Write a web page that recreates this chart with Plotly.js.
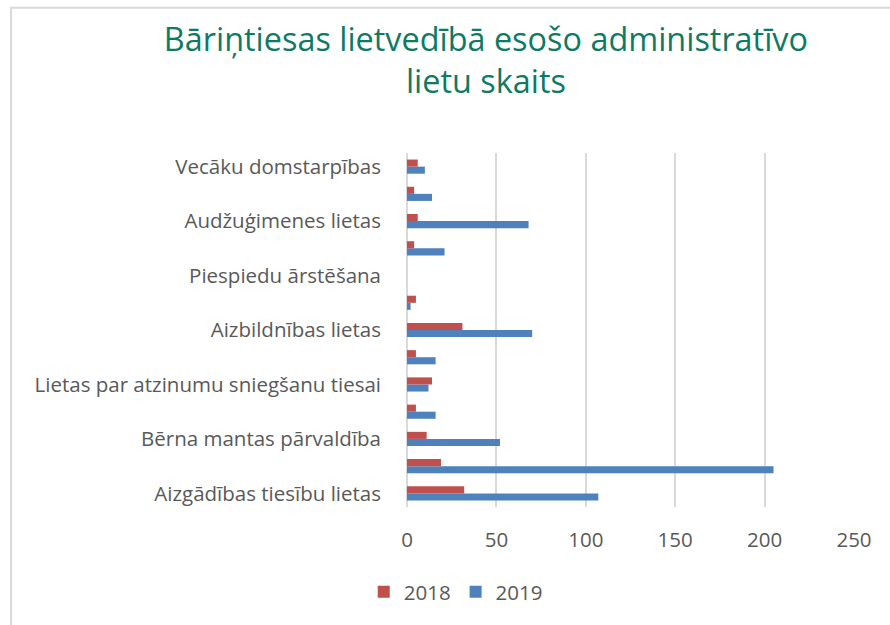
<!DOCTYPE html>
<html>
<head>
<meta charset="utf-8">
<script src="https://cdn.plot.ly/plotly-3.0.1.min.js"></script>
<style>html,body{margin:0;padding:0;background:#fff;}#chart{width:890px;height:625px;}</style>
</head>
<body>
<div id="chart"></div>
<script>
// Categories from bottom to top
const categories = [
  "Aizgādības tiesību lietas",
  "Adopcijas lietas",
  "Bērna mantas pārvaldība",
  "Saskarsmes tiesību lietas",
  "Lietas par atzinumu sniegšanu tiesai",
  "Uzturlīdzekļu lietas",
  "Aizbildnības lietas",
  "Vārda došanas lietas",
  "Piespiedu ārstēšana",
  "Ārpusģimenes aprūpes lietas",
  "Audžuģimenes lietas",
  "Citas lietas",
  "Vecāku domstarpības"
];
const shownLabels = [
  "Aizgādības tiesību lietas",
  "Bērna mantas pārvaldība",
  "Lietas par atzinumu sniegšanu tiesai",
  "Aizbildnības lietas",
  "Piespiedu ārstēšana",
  "Audžuģimenes lietas",
  "Vecāku domstarpības"
];
const values2018 = [32, 19, 11, 5, 14, 5, 31, 5, 0, 4, 6, 4, 6];
const values2019 = [107, 205, 52, 16, 12, 16, 70, 2, 0, 21, 68, 14, 10];
const seriesNames = ["2018", "2019"];
const xTicks = [0, 50, 100, 150, 200, 250];

const font = "'Open Sans', 'Noto Sans', sans-serif";

const data = [
  {type: "bar", orientation: "h", name: seriesNames[1], y: categories, x: values2019,
   marker: {color: "#4F81BD", line: {width: 0}}},
  {type: "bar", orientation: "h", name: seriesNames[0], y: categories, x: values2018,
   marker: {color: "#C0504D", line: {width: 0}}}
];

const layout = {
  width: 890, height: 625,
  margin: {l: 407, r: 36, t: 153, b: 118},
  paper_bgcolor: "#fff", plot_bgcolor: "#fff",
  barmode: "group", bargap: 0.48, bargroupgap: 0,
  font: {family: font, color: "#595959", size: 20.5},
  title: {
    text: "Bāriņtiesas lietvedībā esošo administratīvo<br>lietu skaits",
    font: {family: font, size: 32.4, color: "#0E7A63"},
    xref: "container", x: 0.546, xanchor: "center",
    yref: "container", y: 0.918, yanchor: "top"
  },
  xaxis: {
    range: [0, 250], tickvals: xTicks, ticktext: xTicks.map(String),
    showgrid: true, gridcolor: "#D9D9D9", gridwidth: 2,
    zeroline: true, zerolinecolor: "#D9D9D9", zerolinewidth: 2,
    showline: false, ticks: "", ticklabelstandoff: 18,
    tickfont: {family: font, size: 20.5, color: "#595959"},
    fixedrange: true
  },
  yaxis: {
    type: "category", categoryorder: "array", categoryarray: categories,
    tickvals: shownLabels, ticktext: shownLabels,
    showgrid: false, zeroline: false, showline: false, ticks: "",
    ticklabelstandoff: 25,
    tickfont: {family: font, size: 20.5, color: "#595959"},
    fixedrange: true
  },
  showlegend: true,
  legend: {
    orientation: "h", traceorder: "reversed",
    x: 0.109, xanchor: "center", y: -0.24, yanchor: "middle",
    font: {family: font, size: 20.5, color: "#595959"}
  },
  shapes: [{
    type: "rect", xref: "paper", yref: "paper",
    x0: -0.886, x1: 2, y0: -2, y1: 1.41,
    line: {color: "#D9D9D9", width: 2}, layer: "below"
  }]
};

Plotly.newPlot("chart", data, layout, {displayModeBar: false, staticPlot: true});
</script>
</body>
</html>
